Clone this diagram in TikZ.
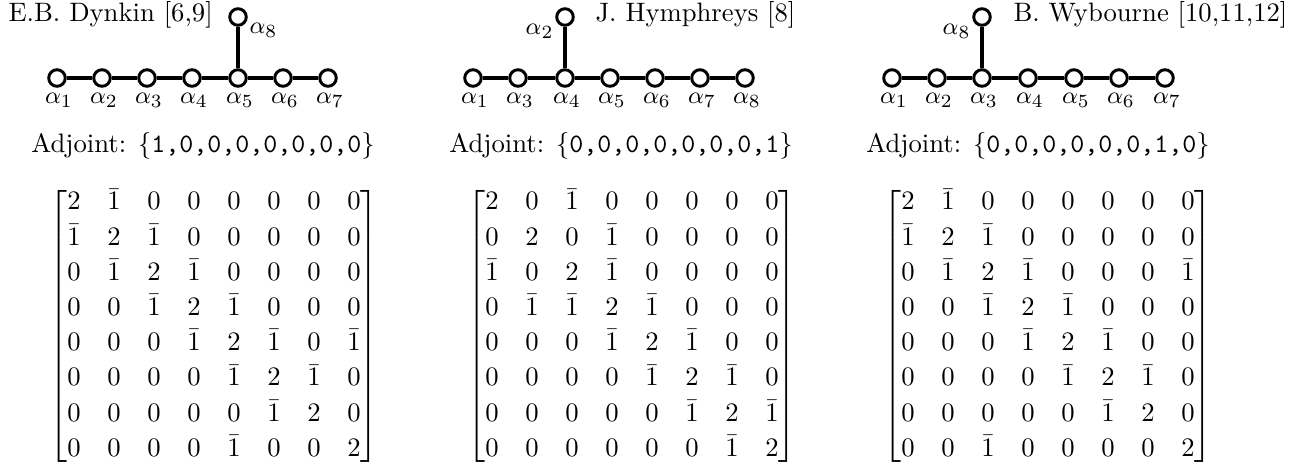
\documentclass[tikz,border=0pt]{standalone}
\usepackage{amsmath}
\begin{document}
\begin{tikzpicture}[x=0.375pt,y=-0.375pt,
  dnode/.style={circle,draw,line width=1.1pt,minimum size=6.2pt,inner sep=0pt,fill=white},
  dedge/.style={line width=1.2pt},
  alab/.style={font=\fontsize{9.5}{11}\selectfont,inner sep=0pt},
  ttl/.style={font=\fontsize{10}{12}\selectfont,inner sep=0pt},
  mat/.style={font=\fontsize{10}{12}\selectfont,inner sep=0pt}]
\useasboundingbox (0,0) rectangle (1299,464);
\renewcommand{\arraystretch}{1.1}
% ---------- Diagram 1 ----------
\node[ttl,anchor=west] (t1) at (8,15) {E.B. Dynkin [6,9]};
\foreach \i/\x in {1/57,2/102,3/147,4/192,5/238,6/283,7/328}{
  \node[dnode] (da\i) at (\x,78) {};
  \node[alab] (la\i) at (\x+2,100) {$\alpha_{\i}$};
}
\node[dnode] (da8) at (238,17) {};
\node[alab,anchor=west] (la8) at (249,30) {$\alpha_8$};
\draw[dedge] (da1)--(da2) (da2)--(da3) (da3)--(da4) (da4)--(da5) (da5)--(da6) (da6)--(da7) (da5)--(da8);
% ---------- Diagram 2 ----------
\node[ttl,anchor=west] (t2) at (595,15) {J. Hymphreys [8]};
\foreach \i/\x/\n in {1/473/1,2/518/3,3/565/4,4/610/5,5/655/6,6/700/7,7/745/8}{
  \node[dnode] (db\i) at (\x,78) {};
  \node[alab] (lb\i) at (\x+2,100) {$\alpha_{\n}$};
}
\node[dnode] (db8) at (565,17) {};
\node[alab,anchor=east] (lb8) at (554,31) {$\alpha_2$};
\draw[dedge] (db1)--(db2) (db2)--(db3) (db3)--(db4) (db4)--(db5) (db5)--(db6) (db6)--(db7) (db3)--(db8);
% ---------- Diagram 3 ----------
\node[ttl,anchor=west] (t3) at (1013,15) {B. Wybourne [10,11,12]};
\foreach \i/\x in {1/892,2/937,3/982,4/1028,5/1074,6/1119,7/1165}{
  \node[dnode] (dc\i) at (\x,78) {};
  \node[alab] (lc\i) at (\x+2,100) {$\alpha_{\i}$};
}
\node[dnode] (dc8) at (982,17) {};
\node[alab,anchor=east] (lc8) at (971,31) {$\alpha_8$};
\draw[dedge] (dc1)--(dc2) (dc2)--(dc3) (dc3)--(dc4) (dc4)--(dc5) (dc5)--(dc6) (dc6)--(dc7) (dc3)--(dc8);
% ---------- Adjoint lines ----------
\node[ttl] (adj1) at (203,146) {Adjoint: $\{\texttt{1,0,0,0,0,0,0,0}\}$};
\node[ttl] (adj2) at (621,146) {Adjoint: $\{\texttt{0,0,0,0,0,0,0,1}\}$};
\node[ttl] (adj3) at (1038,146) {Adjoint: $\{\texttt{0,0,0,0,0,0,1,0}\}$};
% ---------- Matrices ----------
\node[mat] (m1) at (214,326) {$\begin{bmatrix}
2&\bar1&0&0&0&0&0&0\\
\bar1&2&\bar1&0&0&0&0&0\\
0&\bar1&2&\bar1&0&0&0&0\\
0&0&\bar1&2&\bar1&0&0&0\\
0&0&0&\bar1&2&\bar1&0&\bar1\\
0&0&0&0&\bar1&2&\bar1&0\\
0&0&0&0&0&\bar1&2&0\\
0&0&0&0&\bar1&0&0&2
\end{bmatrix}$};
\node[mat] (m2) at (632,326) {$\begin{bmatrix}
2&0&\bar1&0&0&0&0&0\\
0&2&0&\bar1&0&0&0&0\\
\bar1&0&2&\bar1&0&0&0&0\\
0&\bar1&\bar1&2&\bar1&0&0&0\\
0&0&0&\bar1&2&\bar1&0&0\\
0&0&0&0&\bar1&2&\bar1&0\\
0&0&0&0&0&\bar1&2&\bar1\\
0&0&0&0&0&0&\bar1&2
\end{bmatrix}$};
\node[mat] (m3) at (1048,326) {$\begin{bmatrix}
2&\bar1&0&0&0&0&0&0\\
\bar1&2&\bar1&0&0&0&0&0\\
0&\bar1&2&\bar1&0&0&0&\bar1\\
0&0&\bar1&2&\bar1&0&0&0\\
0&0&0&\bar1&2&\bar1&0&0\\
0&0&0&0&\bar1&2&\bar1&0\\
0&0&0&0&0&\bar1&2&0\\
0&0&\bar1&0&0&0&0&2
\end{bmatrix}$};
\end{tikzpicture}
\end{document}
